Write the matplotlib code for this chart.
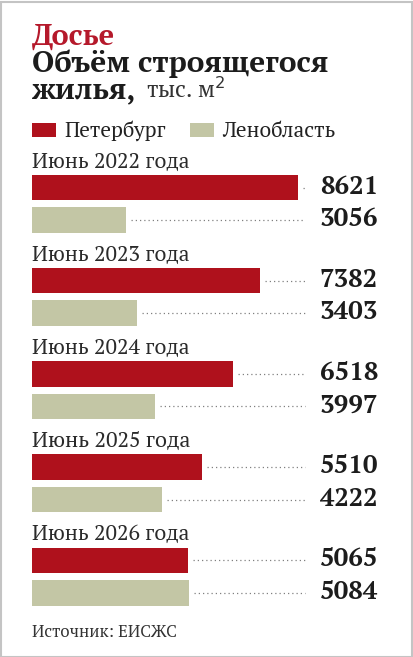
import numpy as np
import matplotlib.pyplot as plt
from matplotlib.patches import Rectangle

# Data
years = ["Июнь 2022 года", "Июнь 2023 года", "Июнь 2024 года", "Июнь 2025 года", "Июнь 2026 года"]
spb = [8621, 7382, 6518, 5510, 5065]
lo = [3056, 3403, 3997, 4222, 5084]
series_names = ["Петербург", "Ленобласть"]

RED = "#af111c"
GREEN = "#c3c6a5"
TITLE_RED = "#b5192b"
INK = "#1c1c1c"

W, H = 413, 657
fig = plt.figure(figsize=(W / 100, H / 100), dpi=100)
fig.patch.set_facecolor("white")
renderer = fig.canvas.get_renderer()

BOLD = ["PT Serif", "DejaVu Serif"]
REG = ["PT Serif", "DejaVu Serif"]


def fit(t, width_px):
    # scale the font so the text spans about width_px pixels
    w = t.get_window_extent(renderer).width
    t.set_fontsize(t.get_fontsize() * width_px / w)
    return t


# thin gray frame around the card
fig.patches.append(Rectangle((0.5 / W, 0.5 / H), 1 - 2 / W, 1 - 2 / H, transform=fig.transFigure,
                             fill=False, edgecolor="#c4c4c4", lw=1.5))

# bars axes: x from 32px to 378px, y in pixel rows (inverted)
x0, x1 = 32, 378
px_per_unit = (298 - 32) / 8621
xmax = (x1 - x0) / px_per_unit
ax = fig.add_axes([x0 / W, 0, (x1 - x0) / W, 1])
ax.set_xlim(0, xmax)
ax.set_ylim(H, 0)
ax.axis("off")

group_step = 93.2
red_y0 = 187.5
bar_h = 25.5
dot_end = (305 - x0) / px_per_unit

for i, (lab, a, b) in enumerate(zip(years, spb, lo)):
    yr = red_y0 + group_step * i
    yg = yr + 32.5
    t = ax.text(0, yr - 20, lab, fontsize=12, family=REG, color="#2a2a2a", va="baseline", ha="left")
    fit(t, 157)
    for y, v, c in [(yr, a, RED), (yg, b, GREEN)]:
        ax.barh(y, v, height=bar_h, color=c, left=0)
        start = v + 5 / px_per_unit
        if start < dot_end:
            ax.plot([start, dot_end], [y, y], color="#808080", lw=0.9, ls=(0, (1.0, 2.4)))
        t = ax.text(xmax, y + 6, f"{v}", fontsize=13, family=BOLD, fontweight="bold",
                    color=INK, ha="right", va="baseline")
        fit(t, 58)

# titles
t = fig.text(32 / W, 1 - 45 / H, "Досье", fontsize=17, family=BOLD, fontweight="bold",
             color=TITLE_RED, va="baseline")
fit(t, 83)
t = fig.text(32 / W, 1 - 72 / H, "Объём строящегося", fontsize=16.5, family=BOLD, fontweight="bold",
             color=INK, va="baseline")
fit(t, 296)
fs = t.get_fontsize()
t2 = fig.text(32 / W, 1 - 98 / H, "жилья,", fontsize=fs, family=BOLD, fontweight="bold",
              color=INK, va="baseline")
xe = t2.get_window_extent(renderer).x1
t3 = fig.text((xe + 9) / W, 1 - 98 / H, "тыс. м$^2$", fontsize=13, family=REG,
              color="#333333", va="baseline")
fit(t3, 80)

# legend
for x, name, c, wpx in [(32, series_names[0], RED, 102), (190, series_names[1], GREEN, 114)]:
    fig.patches.append(Rectangle((x / W, 1 - 137 / H), 24 / W, 14 / H, transform=fig.transFigure,
                                 facecolor=c, edgecolor="none"))
    t = fig.text((x + 32) / W, 1 - 137 / H, name, fontsize=12.5, family=REG, color="#222222",
                 va="baseline")
    fit(t, wpx)

t = fig.text(32 / W, 1 - 637 / H, "Источник: ЕИСЖС", fontsize=11, family=REG, color="#333333",
             va="baseline")
fit(t, 145)

fig.savefig("out.png", dpi=100)
